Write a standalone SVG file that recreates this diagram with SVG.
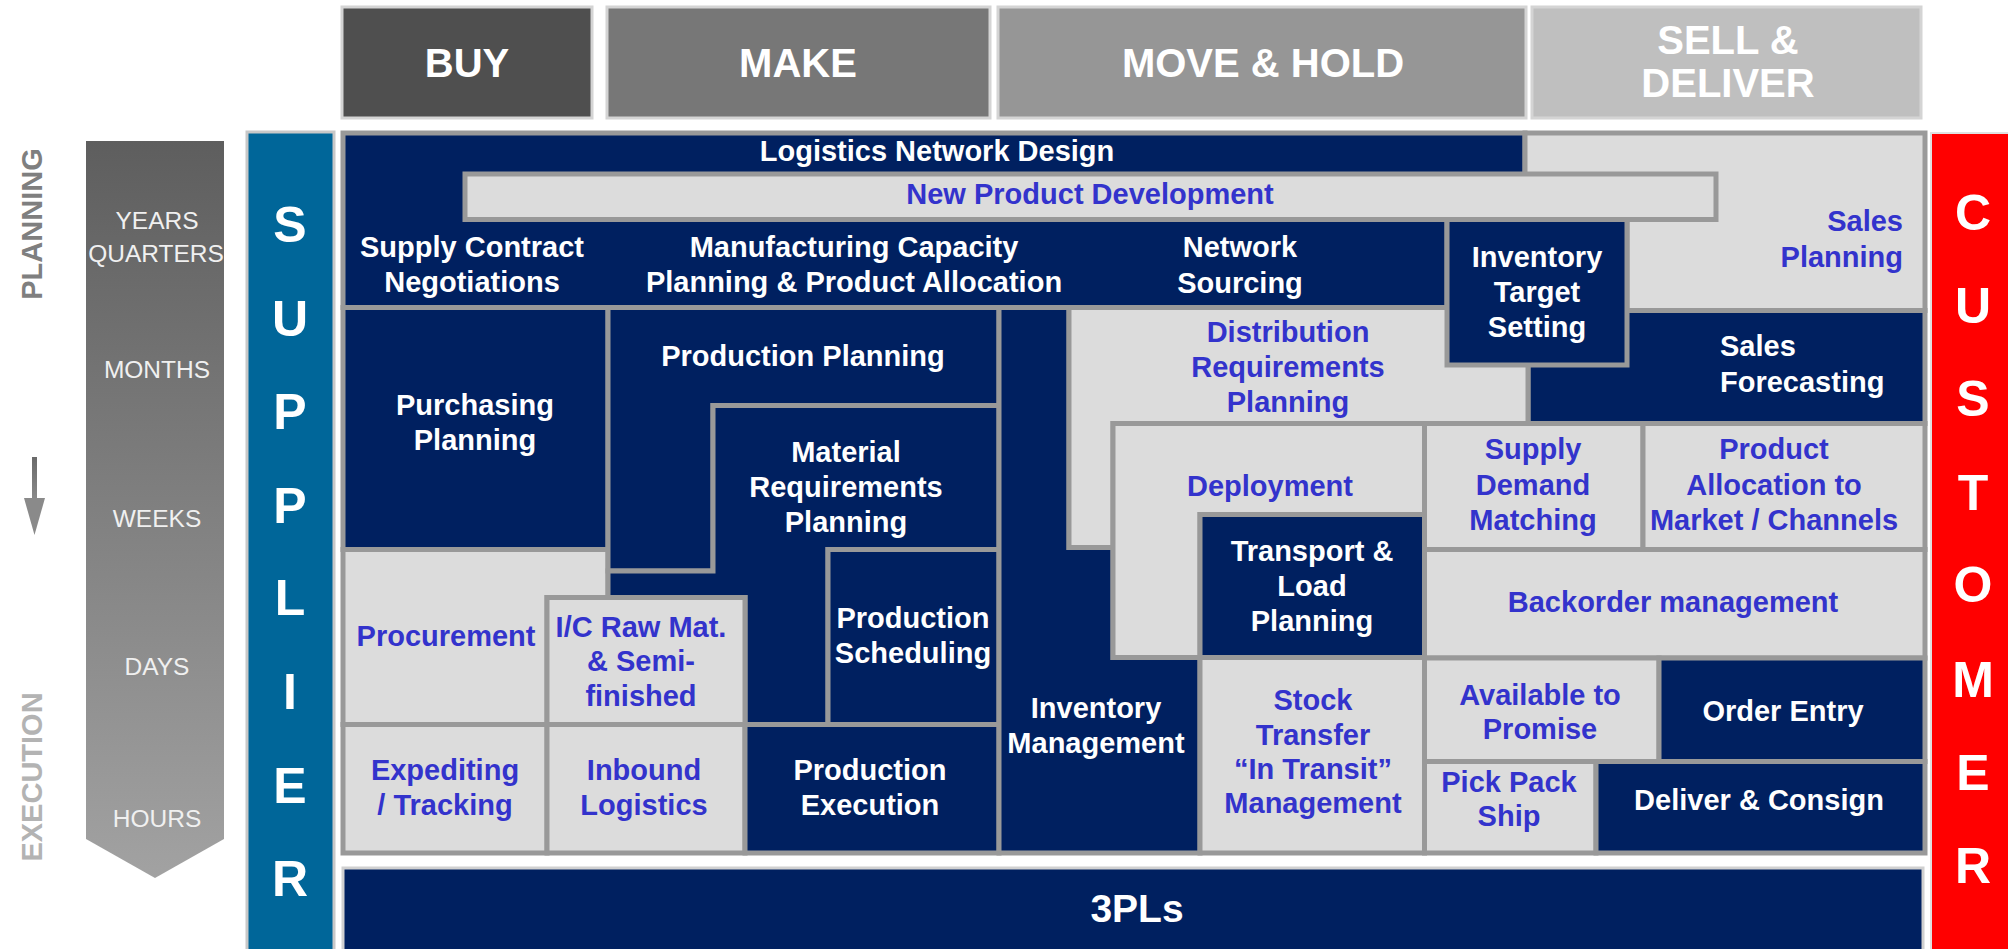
<svg xmlns="http://www.w3.org/2000/svg" width="2008" height="949" viewBox="0 0 2008 949">
<defs>
<linearGradient id="timeGrad" x1="0" y1="0" x2="0" y2="1">
<stop offset="0" stop-color="#5e5e5e"/>
<stop offset="1" stop-color="#a2a2a2"/>
</linearGradient>
<linearGradient id="arrGrad" x1="0" y1="0" x2="0" y2="1">
<stop offset="0" stop-color="#6a6a6a"/>
<stop offset="1" stop-color="#8a8a8a"/>
</linearGradient>
</defs>
<style>
text { font-family: "Liberation Sans", Arial, Helvetica, sans-serif; }
.d { fill:#002060; stroke:#999999; stroke-width:5; }
.l { fill:#dcdcdc; stroke:#999999; stroke-width:5; }
.hdr { stroke:#d4d4d4; stroke-width:3; }
.tw { fill:#ffffff; font-weight:bold; font-size:29px; text-anchor:middle; }
.tb { fill:#3333cc; font-weight:bold; font-size:29px; text-anchor:middle; }
.hd { fill:#ffffff; font-weight:bold; font-size:40px; text-anchor:middle; }
.bl { fill:#ffffff; font-weight:bold; font-size:50px; text-anchor:middle; }
.tm { fill:#f0f0f0; font-size:24.5px; text-anchor:middle; }
.side { font-weight:bold; font-size:29px; text-anchor:middle; }
</style>
<rect width="2008" height="949" fill="#ffffff"/>

<!-- Column headers -->
<g id="hdr-buy"><rect class="hdr" x="342" y="7" width="250" height="111" fill="#4f4f4f"/><text class="hd" x="467" y="77">BUY</text></g>
<g id="hdr-make"><rect class="hdr" x="607" y="7" width="383" height="111" fill="#777777"/><text class="hd" x="798" y="77">MAKE</text></g>
<g id="hdr-move"><rect class="hdr" x="998" y="7" width="528" height="111" fill="#969696"/><text class="hd" x="1263" y="77">MOVE &amp; HOLD</text></g>
<g id="hdr-sell"><rect class="hdr" x="1532" y="7" width="389" height="111" fill="#bfbfbf"/><text class="hd" x="1728" y="54">SELL &amp;</text><text class="hd" x="1728" y="97">DELIVER</text></g>

<!-- Time axis -->
<g id="time-axis">
<polygon points="86,141 224,141 224,839 155,878 86,839" fill="url(#timeGrad)"/>
<text class="tm" x="157" y="229">YEARS</text>
<text class="tm" x="156" y="262">QUARTERS</text>
<text class="tm" x="157" y="378">MONTHS</text>
<text class="tm" x="157" y="527">WEEKS</text>
<text class="tm" x="157" y="675">DAYS</text>
<text class="tm" x="157" y="827">HOURS</text>
</g>
<g id="label-planning"><text class="side" fill="#7f7f7f" transform="translate(42,224) rotate(-90)">PLANNING</text></g>
<g id="label-execution"><text class="side" fill="#b3b3b3" transform="translate(42,777) rotate(-90)">EXECUTION</text></g>

<g id="connectors">
<rect x="32" y="457" width="5" height="43" fill="url(#arrGrad)"/>
<polygon points="24,498 45,498 34.5,535" fill="#8a8a8a"/>
</g>

<!-- Supplier bar -->
<g id="supplier">
<rect x="247" y="132" width="87" height="820" fill="#006699" stroke="#c8c8c8" stroke-width="3"/>
<text class="bl" x="290" y="242">S</text>
<text class="bl" x="290" y="336">U</text>
<text class="bl" x="290" y="429">P</text>
<text class="bl" x="290" y="523">P</text>
<text class="bl" x="290" y="615">L</text>
<text class="bl" x="290" y="709">I</text>
<text class="bl" x="290" y="803">E</text>
<text class="bl" x="290" y="896">R</text>
</g>

<!-- Customer bar -->
<g id="customer">
<rect x="1931" y="133" width="80" height="820" fill="#ff0000" stroke="#e0e0e0" stroke-width="2"/>
<text class="bl" x="1973" y="230">C</text>
<text class="bl" x="1973" y="323">U</text>
<text class="bl" x="1973" y="416">S</text>
<text class="bl" x="1973" y="510">T</text>
<text class="bl" x="1973" y="602">O</text>
<text class="bl" x="1973" y="697">M</text>
<text class="bl" x="1973" y="790">E</text>
<text class="bl" x="1973" y="883">R</text>
</g>

<!-- Planning block -->
<g id="planning-block">
<polygon class="d" points="343,133 1525,133 1525,220 1447,220 1447,307.5 343,307.5"/>
<text class="tw" x="937" y="161">Logistics Network Design</text>
<text class="tw" x="472" y="257">Supply Contract</text>
<text class="tw" x="472" y="292">Negotiations</text>
<text class="tw" x="854" y="257">Manufacturing Capacity</text>
<text class="tw" x="854" y="292">Planning &amp; Product Allocation</text>
<text class="tw" x="1240" y="257">Network</text>
<text class="tw" x="1240" y="293">Sourcing</text>
</g>
<g id="sales-planning">
<polygon class="l" points="1525,133 1925,133 1925,310.5 1627,310.5 1627,220 1525,220"/>
<text class="tb" style="text-anchor:end" x="1903" y="231">Sales</text>
<text class="tb" style="text-anchor:end" x="1903" y="267">Planning</text>
</g>
<g id="new-product-development">
<rect class="l" x="465" y="174" width="1251" height="45.5"/>
<text class="tb" x="1090" y="204">New Product Development</text>
</g>
<g id="sales-forecasting">
<rect class="d" x="1528" y="310.5" width="397" height="113"/>
<text class="tw" style="text-anchor:start" x="1720" y="356">Sales</text>
<text class="tw" style="text-anchor:start" x="1720" y="392">Forecasting</text>
</g>

<!-- BUY column -->
<g id="purchasing-planning">
<rect class="d" x="343" y="307.5" width="265" height="242"/>
<text class="tw" x="475" y="415">Purchasing</text>
<text class="tw" x="475" y="450">Planning</text>
</g>
<g id="procurement">
<polygon class="l" points="343,549.5 608,549.5 608,597.5 547,597.5 547,724.5 343,724.5"/>
<text class="tb" x="446" y="646">Procurement</text>
</g>
<g id="expediting">
<rect class="l" x="343" y="724.5" width="204" height="128.5"/>
<text class="tb" x="445" y="780">Expediting</text>
<text class="tb" x="445" y="815">/ Tracking</text>
</g>
<g id="inbound-logistics">
<rect class="l" x="547" y="724.5" width="198" height="128.5"/>
<text class="tb" x="644" y="780">Inbound</text>
<text class="tb" x="644" y="815">Logistics</text>
</g>

<!-- MAKE column -->
<g id="production-planning">
<polygon class="d" points="608,307.5 999,307.5 999,405.5 713,405.5 713,571 608,571"/>
<text class="tw" x="803" y="366">Production Planning</text>
</g>
<g id="material-requirements-planning">
<polygon class="d" points="713,405.5 999,405.5 999,549.5 828,549.5 828,724.5 745,724.5 745,597.5 608,597.5 608,571 713,571"/>
<text class="tw" x="846" y="462">Material</text>
<text class="tw" x="846" y="497">Requirements</text>
<text class="tw" x="846" y="532">Planning</text>
</g>
<g id="ic-raw-material">
<rect class="l" x="547" y="597.5" width="198" height="127"/>
<text class="tb" x="641" y="637">I/C Raw Mat.</text>
<text class="tb" x="641" y="671">&amp; Semi-</text>
<text class="tb" x="641" y="706">finished</text>
</g>
<g id="production-scheduling">
<rect class="d" x="828" y="549.5" width="171" height="175"/>
<text class="tw" x="913" y="628">Production</text>
<text class="tw" x="913" y="663">Scheduling</text>
</g>
<g id="production-execution">
<rect class="d" x="745" y="724.5" width="254" height="128.5"/>
<text class="tw" x="870" y="780">Production</text>
<text class="tw" x="870" y="815">Execution</text>
</g>

<!-- MOVE & HOLD column -->
<g id="inventory-management">
<polygon class="d" points="999,307.5 1069,307.5 1069,547.5 1113,547.5 1113,657.5 1200,657.5 1200,853 999,853"/>
<text class="tw" x="1096" y="718">Inventory</text>
<text class="tw" x="1096" y="753">Management</text>
</g>
<g id="distribution-requirements-planning">
<polygon class="l" points="1069,307.5 1528,307.5 1528,423.5 1113,423.5 1113,547.5 1069,547.5"/>
<text class="tb" x="1288" y="342">Distribution</text>
<text class="tb" x="1288" y="377">Requirements</text>
<text class="tb" x="1288" y="412">Planning</text>
</g>
<g id="inventory-target-setting">
<rect class="d" x="1447" y="219.5" width="180" height="145.5"/>
<text class="tw" x="1537" y="267">Inventory</text>
<text class="tw" x="1537" y="302">Target</text>
<text class="tw" x="1537" y="337">Setting</text>
</g>
<g id="deployment">
<polygon class="l" points="1113,423.5 1424.5,423.5 1424.5,514.5 1200,514.5 1200,657.5 1113,657.5"/>
<text class="tb" x="1270" y="496">Deployment</text>
</g>
<g id="transport-load-planning">
<rect class="d" x="1200" y="514.5" width="224.5" height="143"/>
<text class="tw" x="1312" y="561">Transport &amp;</text>
<text class="tw" x="1312" y="596">Load</text>
<text class="tw" x="1312" y="631">Planning</text>
</g>
<g id="stock-transfer">
<rect class="l" x="1200" y="657.5" width="224.5" height="195.5"/>
<text class="tb" x="1313" y="710">Stock</text>
<text class="tb" x="1313" y="745">Transfer</text>
<text class="tb" x="1313" y="779">“In Transit”</text>
<text class="tb" x="1313" y="813">Management</text>
</g>

<!-- SELL & DELIVER column -->
<g id="supply-demand-matching">
<rect class="l" x="1424.5" y="423.5" width="218.5" height="126"/>
<text class="tb" x="1533" y="459">Supply</text>
<text class="tb" x="1533" y="495">Demand</text>
<text class="tb" x="1533" y="530">Matching</text>
</g>
<g id="product-allocation">
<rect class="l" x="1643" y="423.5" width="282" height="126"/>
<text class="tb" x="1774" y="459">Product</text>
<text class="tb" x="1774" y="495">Allocation to</text>
<text class="tb" x="1774" y="530">Market / Channels</text>
</g>
<g id="backorder-management">
<rect class="l" x="1424.5" y="549.5" width="500.5" height="108.5"/>
<text class="tb" x="1673" y="612">Backorder management</text>
</g>
<g id="available-to-promise">
<rect class="l" x="1424.5" y="658" width="234.5" height="103.5"/>
<text class="tb" x="1540" y="705">Available to</text>
<text class="tb" x="1540" y="739">Promise</text>
</g>
<g id="order-entry">
<rect class="d" x="1659" y="658" width="266" height="103.5"/>
<text class="tw" x="1783" y="721">Order Entry</text>
</g>
<g id="pick-pack-ship">
<rect class="l" x="1424.5" y="761.5" width="171.5" height="91.5"/>
<text class="tb" x="1509" y="792">Pick Pack</text>
<text class="tb" x="1509" y="826">Ship</text>
</g>
<g id="deliver-consign">
<rect class="d" x="1596" y="761.5" width="329" height="91.5"/>
<text class="tw" x="1759" y="810">Deliver &amp; Consign</text>
</g>

<!-- 3PLs -->
<g id="three-pls">
<rect x="343" y="868" width="1580" height="90" fill="#002060" stroke="#d0d0d0" stroke-width="3"/>
<text class="tw" style="font-size:39px" x="1137" y="922">3PLs</text>
</g>
</svg>
